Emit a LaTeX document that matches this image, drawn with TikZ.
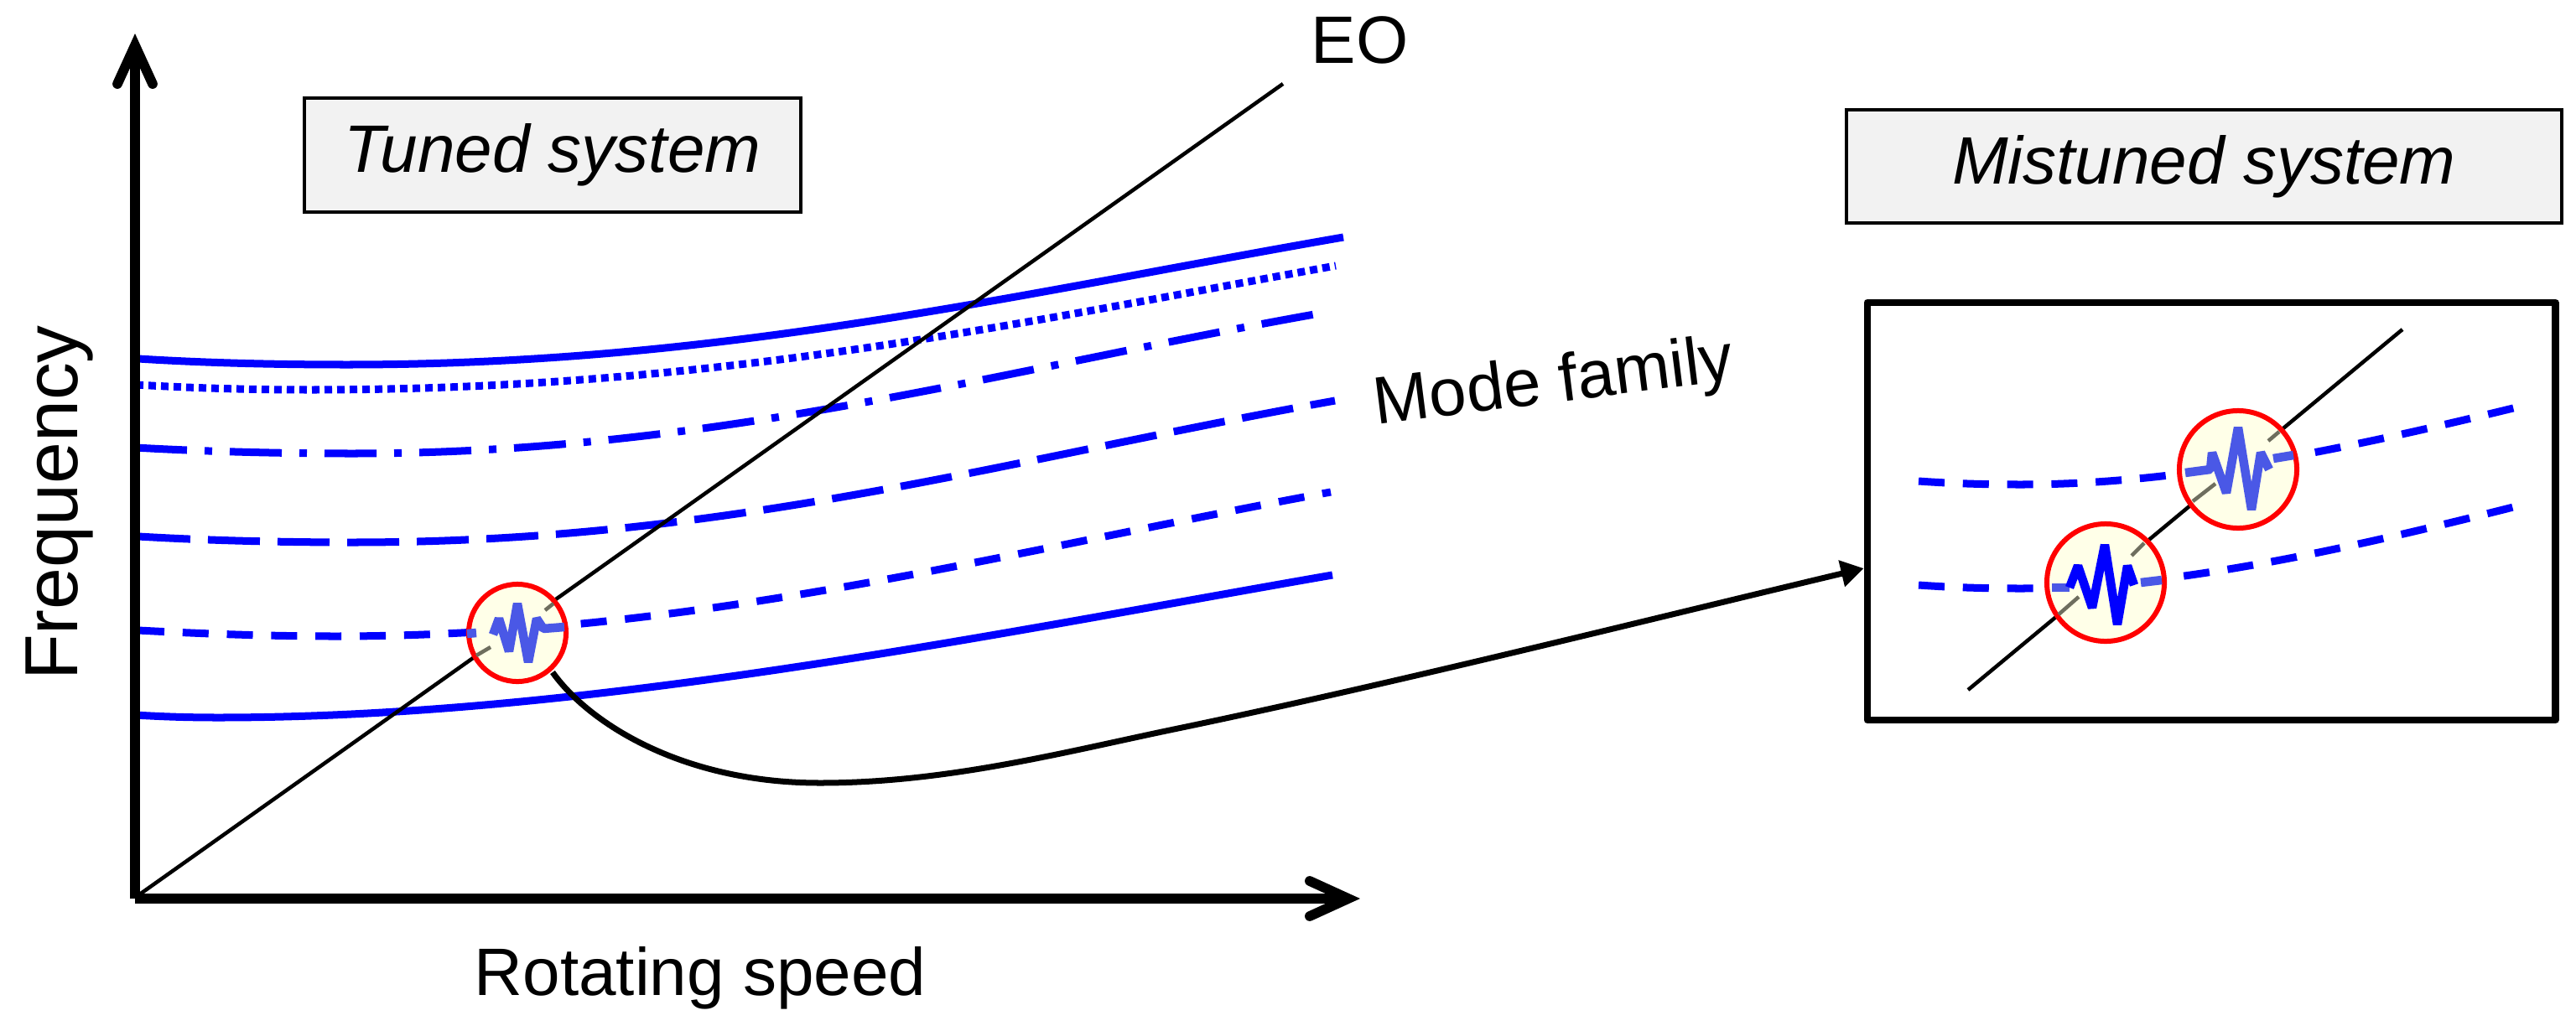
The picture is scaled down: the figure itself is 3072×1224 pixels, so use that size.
\documentclass[tikz,border=0pt]{standalone}
\usepackage{fontspec}
\setmainfont{Liberation Sans}
\usetikzlibrary{arrows.meta}
\definecolor{hatchblue}{HTML}{4A58E6}
\definecolor{stubgrey}{HTML}{6E6E5E}
\definecolor{haloyellow}{HTML}{FFFFE8}
\definecolor{labelgrey}{HTML}{F2F2F2}
\tikzset{
  axisline/.style={line width=0.117cm,-{Straight Barb[length=0.46cm,width=0.42cm,line cap=round,line join=miter]}},
  eoline/.style={line width=0.045cm,black},
  mode/.style={line width=0.09cm,blue},
  longdash/.style={mode,dash pattern=on 0.62cm off 0.21cm},
  shortdash/.style={mode,dash pattern=on 0.31cm off 0.218cm},
  dashdot/.style={mode,dash pattern=on 0.62cm off 0.21cm on 0.09cm off 0.21cm},
  dotline/.style={mode,dash pattern=on 0.09cm off 0.06cm},
  titlebox/.style={draw=black,line width=0.04cm,fill=labelgrey,inner sep=0pt,font=\fontsize{22.76pt}{26pt}\selectfont\itshape},
  txt/.style={inner sep=0pt,font=\fontsize{22.76pt}{26pt}\selectfont},
  halosmall/.style={circle,draw=red,fill=haloyellow,line width=0.06cm,inner sep=0pt,minimum size=1.16cm},
  halobig/.style={circle,draw=red,fill=haloyellow,line width=0.06cm,inner sep=0pt,minimum size=1.40cm},
  wave/.style={line width=0.105cm,line join=bevel},
  stub/.style={line width=0.045cm,stubgrey},
}
\begin{document}
\begin{tikzpicture}[x=0.01cm,y=-0.01cm]
\useasboundingbox (0,0) rectangle (3072,1224);
% axes
\coordinate (org) at (161,1072);
\coordinate (ytip) at (161,40);
\coordinate (xtip) at (1622,1072);
% mode family curves
\coordinate (a0) at (165,428); \coordinate (a1) at (414,435); \coordinate (a2) at (1602,283);
\coordinate (b0) at (162,459); \coordinate (b1) at (370,465); \coordinate (b2) at (1593,317);
\coordinate (c0) at (161,534); \coordinate (c1) at (420,541); \coordinate (c2) at (1573,374);
\coordinate (d0) at (165,640); \coordinate (d1) at (420,647); \coordinate (d2) at (1592,478);
\coordinate (e0) at (165,752); \coordinate (e1) at (400,759); \coordinate (e2) at (1587,587);
\coordinate (f0) at (161,853); \coordinate (f1) at (260,856); \coordinate (f2) at (1589,686);
\draw[mode] (a0) .. controls (245,433) and (330,435) .. (a1) .. controls (860,435) and (1210,351) .. (a2);
\draw[dotline] (b0) .. controls (230,463) and (300,465) .. (b1) .. controls (850,465) and (1200,388) .. (b2);
\draw[dashdot] (c0) .. controls (250,539) and (340,541) .. (c1) .. controls (850,541) and (1190,442) .. (c2);
\draw[longdash] (d0) .. controls (250,645) and (340,647) .. (d1) .. controls (870,647) and (1200,548) .. (d2);
\draw[shortdash] (e0) .. controls (240,756) and (320,759) .. (e1) .. controls (830,759) and (1200,658) .. (e2);
\draw[mode] (f0) .. controls (195,855) and (225,856) .. (f1) .. controls (700,856) and (1180,757) .. (f2);
% EO line
\coordinate (eotop) at (1530,100);
\coordinate (eobot) at (165,1068);
\draw[eoline] (eobot) -- (eotop);
\draw[axisline] (org) -- (ytip);
\draw[axisline] (org) -- (xtip);
% labels
\node[titlebox,minimum width=5.92cm,minimum height=1.36cm] (tuned) at (659,185) {Tuned system};
\node[titlebox,minimum width=8.53cm,minimum height=1.35cm] (mistuned) at (2628.5,198.5) {Mistuned system};
\node[txt,anchor=base west] (eolabel) at (1563,75) {EO};
\node[txt,anchor=base] (xlabel) at (835,1187) {Rotating speed};
\node[txt,anchor=base,rotate=90,font=\fontsize{25.5pt}{28pt}\selectfont] (ylabel) at (92,600) {Frequency};
\node[txt,anchor=base west,rotate=7.2] (family) at (1641,507) {Mode family};
% inset box
\node[draw=black,line width=0.085cm,line join=round,fill=white,inner sep=0pt,minimum width=8.2cm,minimum height=4.98cm] (inset) at (2637,610) {};
\coordinate (i0) at (2288,574); \coordinate (i1) at (2410,578); \coordinate (i2) at (3001,486);
\coordinate (j0) at (2288,698); \coordinate (j1) at (2410,702); \coordinate (j2) at (3001,604);
\draw[shortdash] (i0) .. controls (2330,577) and (2370,578) .. (i1) .. controls (2600,578) and (2800,535) .. (i2);
\draw[shortdash] (j0) .. controls (2330,701) and (2370,702) .. (j1) .. controls (2590,702) and (2800,655) .. (j2);
\coordinate (ieo0) at (2347,823);
\coordinate (ieo1) at (2865,393);
\draw[eoline] (ieo0) -- (ieo1);
% halos
\node[halosmall] (h0) at (617,755) {};
\node[halobig] (h1) at (2669,560) {};
\node[halobig] (h2) at (2511,695) {};
% left halo contents
\draw[stub] (568,782) -- (585,772);
\draw[stub] (650,728) -- (660,720);
\draw[wave,hatchblue] (557,756) -- (568,755);
\draw[wave,hatchblue] (588,757) -- (595,738) -- (607,777) -- (617,720) -- (630,790) -- (640,738) -- (648,750) -- (673,748);
% upper right halo contents
\draw[stub] (2615,598) -- (2642,577);
\draw[stub] (2705,526) -- (2718,515);
\draw[wave,hatchblue] (2606,564) -- (2636,560) -- (2638,540) -- (2655,588) -- (2669,510) -- (2685,608) -- (2696,540) -- (2706,560);
\draw[wave,hatchblue] (2711,547) -- (2735,543);
% lower right halo contents
\draw[stub] (2455,733) -- (2479,712);
\draw[stub] (2542,663) -- (2557,648);
\draw[wave,hatchblue] (2447,701) -- (2468,701);
\draw[wave,blue] (2468,701) -- (2478,675) -- (2495,725) -- (2510,650) -- (2525,745) -- (2537,675) -- (2545,698);
\draw[wave,hatchblue] (2553,695) -- (2578,692);
% connector
\draw[line width=0.07cm,black,-{Triangle[length=0.27cm,width=0.31cm]}] (659,802) .. controls (700,860) and (810,934) .. (978,934) .. controls (1130,934) and (1270,897) .. (1400,870) .. controls (1660,816) and (1950,743) .. (inset.west |- 0,678);
\end{tikzpicture}
\end{document}
